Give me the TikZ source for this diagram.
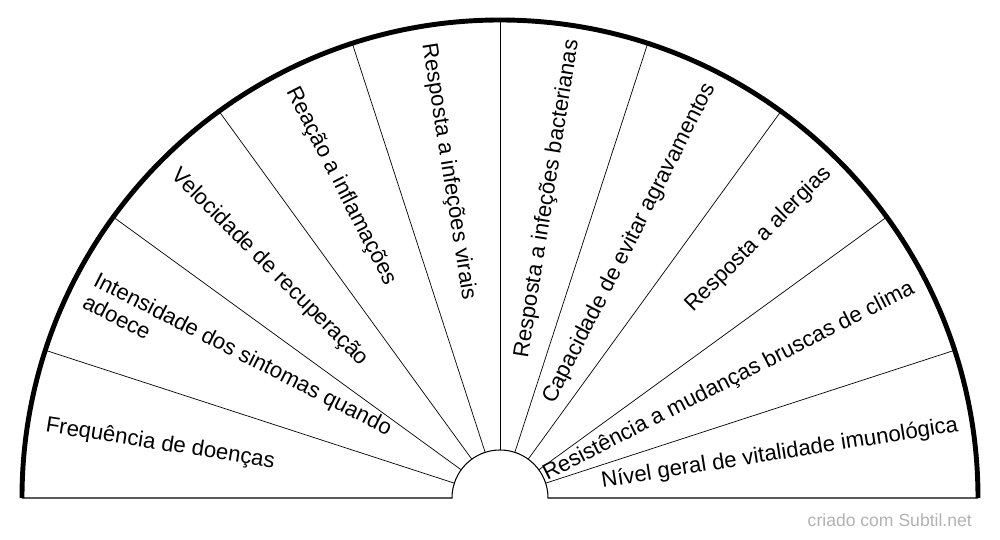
\documentclass[tikz,border=0pt]{standalone}
\usepackage{fontspec}
\setmainfont{Liberation Sans}
\tikzset{
  lbl/.style={inner sep=0pt, font=\fontsize{12.6}{14}\selectfont, align=left},
}
\begin{document}
\begin{tikzpicture}[x=0.02cm,y=0.02cm]
		\useasboundingbox (-500,-42) rectangle (500,498);
		% sector lines
		\foreach \a in {18,36,...,162}
			\draw[line width=0.4pt] (\a:48) -- (\a:478);
		\draw[line width=0.6pt] (-478,0) -- (-48,0) arc (180:0:48) -- (478,0);
		\draw[line width=2.8pt] (478,0) arc (0:180:478);

		% left half: text reads inward
		\foreach \a/\t [count=\i] in {171/{Frequência de doenças},
				153/{Intensidade dos sintomas quando\\adoece},
				135/{Velocidade de recuperação},
				117/{Reação a inflamações},
				99/{Resposta a infeções virais}}
			\node[lbl, anchor=west, rotate=\a-180] (l\i) at (\a:460) {\t};

		% right half: text reads outward
		\foreach \a/\t [count=\i] in {81/{Resposta a infeções bacterianas},
				63/{Capacidade de evitar agravamentos},
				45/{Resposta a alergias},
				27/{Resistência a mudanças bruscas de clima},
				9/{Nível geral de vitalidade imunológica}}
			\node[lbl, anchor=east, rotate=\a] (r\i) at (\a:464) {\t};

		\node[anchor=east, text=black!30, font=\fontsize{10}{11}\selectfont] (mark) at (478,-22) {criado com Subtil.net};
\end{tikzpicture}
\end{document}
